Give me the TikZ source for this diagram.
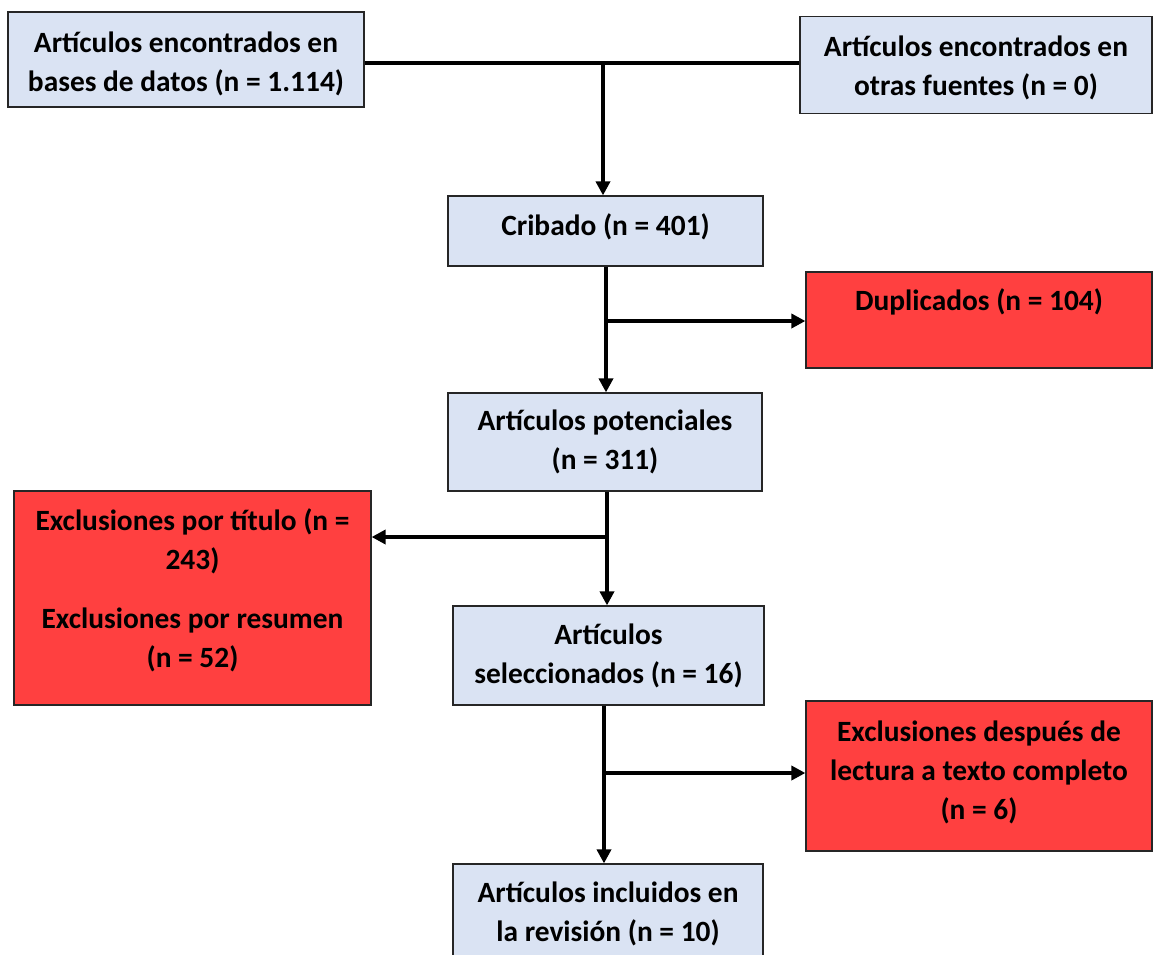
\documentclass[tikz,border=0pt]{standalone}
\usepackage{fontspec}
\setmainfont{Carlito}
\usetikzlibrary{arrows.meta}
\definecolor{boxblue}{RGB}{218,227,243}
\definecolor{boxred}{RGB}{255,64,64}
\begin{document}
\begin{tikzpicture}[x=1pt,y=-1pt,
  txt/.style={inner sep=0pt, align=center, font=\fontsize{29.4}{39}\selectfont\bfseries},
  box/.style={draw=black!85, line width=1.2pt, inner sep=0pt, txt},
  bluebox/.style={box, fill=boxblue},
  redbox/.style={box, fill=boxred},
  conn/.style={line width=4pt},
  arr/.style={conn, -{Triangle[length=14pt,width=14pt]}}]
\useasboundingbox (0,0) rectangle (1153,954);

\node[bluebox, minimum width=356pt, minimum height=95pt,
  label={[txt, yshift=-4pt]center:{Artículos encontrados en\\bases de datos (n = 1.114)}}]
  (A) at (186,59.5) {};
\node[bluebox, minimum width=352pt, minimum height=97pt,
  label={[txt, yshift=-3pt]center:{Artículos encontrados en\\otras fuentes (n = 0)}}]
  (B) at (976,65) {};
\node[bluebox, minimum width=315pt, minimum height=70pt,
  label={[txt, yshift=4pt]center:{Cribado (n = 401)}}]
  (C) at (605.5,231) {};
\node[redbox, minimum width=346pt, minimum height=96pt,
  label={[txt, yshift=-5pt]center:{Duplicados (n = 104)\\\strut}}]
  (D) at (979,320) {};
\node[bluebox, minimum width=314pt, minimum height=98pt] (E) at (605,442)
  {Artículos potenciales\\(n = 311)};
\node[redbox, minimum width=357pt, minimum height=214pt,
  label={[txt, yshift=8pt]center:{Exclusiones por título (n =\\243)\\[20pt]Exclusiones por resumen\\(n = 52)}}]
  (F) at (192.5,598) {};
\node[bluebox, minimum width=311pt, minimum height=99pt] (G) at (608.5,655.5)
  {Artículos\\seleccionados (n = 16)};
\node[redbox, minimum width=346pt, minimum height=150pt,
  label={[txt, yshift=4pt]center:{Exclusiones después de\\lectura a texto completo\\(n = 6)}}]
  (H) at (979,776) {};
\node[bluebox, minimum width=310pt, minimum height=100pt] (I) at (608,914)
  {Artículos incluidos en\\la revisión (n = 10)};

\coordinate (j1) at (603,63);
\draw[conn] (A.east |- j1) -- (B.west |- j1);
\draw[arr] (j1) -- (j1 |- C.north);

\coordinate (j2) at (606,321);
\draw[arr] (j2 |- C.south) -- (j2 |- E.north);
\draw[arr] (j2) -- (D.west |- j2);

\coordinate (j3) at (607,537);
\draw[arr] (j3 |- E.south) -- (j3 |- G.north);
\draw[arr] (j3) -- (F.east |- j3);

\coordinate (j4) at (604,773);
\draw[arr] (j4 |- G.south) -- (j4 |- I.north);
\draw[arr] (j4) -- (H.west |- j4);
\end{tikzpicture}
\end{document}
